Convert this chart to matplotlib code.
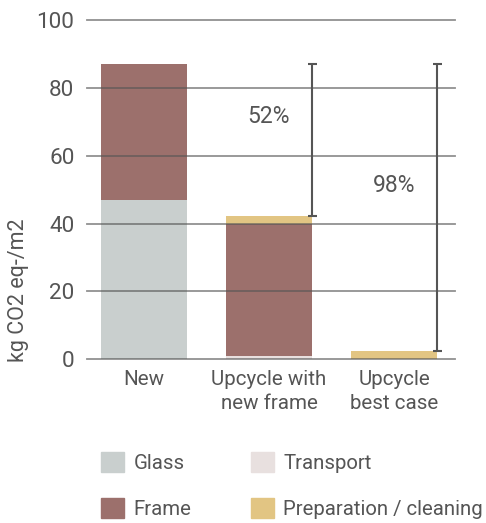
import matplotlib
matplotlib.use("Agg")
import matplotlib.pyplot as plt
from matplotlib.patches import Patch
import numpy as np

categories = ["New", "Upcycle with\nnew frame", "Upcycle\nbest case"]
glass = [47.0, 0.0, 0.0]
transport = [0.0, 0.9, 0.0]
frame = [40.0, 38.9, 0.0]
preparation = [0.0, 2.4, 2.4]
reductions = ["52%", "98%"]
reduction_label_y = [71.5, 51.3]
yticks = [0, 20, 40, 60, 80, 100]

colors = {
    "Glass": "#C9CFCE",
    "Transport": "#E8E0DF",
    "Frame": "#9C706C",
    "Preparation / cleaning": "#E2C583",
}
text_color = "#555555"

plt.rcParams['font.family'] = ['Roboto', 'DejaVu Sans']

fig = plt.figure(figsize=(4.86, 5.23), dpi=100)
ax = fig.add_axes([87/486, 1 - 359/523, (455-87)/486, (359-20.3)/523])

x = np.arange(len(categories))
w = 0.69
g = np.array(glass); t = np.array(transport); f = np.array(frame); p = np.array(preparation)
ax.bar(x, g, w, color=colors["Glass"], zorder=1)
ax.bar(x, t, w, bottom=g, color=colors["Transport"], zorder=1)
ax.bar(x, f, w, bottom=g + t, color=colors["Frame"], zorder=1)
ax.bar(x, p, w, bottom=g + t + f, color=colors["Preparation / cleaning"], zorder=1)

totals = g + t + f + p
ref = totals[0]
for i in (1, 2):
    xe = x[i] + w / 2
    ax.vlines(xe, totals[i], ref, color="#555555", lw=1.5, zorder=4)
    ax.hlines([totals[i], ref], xe - 0.035, xe + 0.035, color="#555555", lw=1.5, zorder=4)
    ax.text(x[i], reduction_label_y[i - 1], reductions[i - 1], ha="center", va="center",
            fontsize=16.5, color=text_color)

ax.set_xlim(-0.456, 2.488)
ax.set_ylim(0, 100)
ax.set_yticks(yticks)
ax.set_xticks(x)
ax.set_xticklabels(categories, fontsize=14.8, color=text_color, linespacing=1.3)
ax.tick_params(axis="y", length=0, pad=9, labelsize=16.2, labelcolor=text_color)
ax.tick_params(axis="x", length=0, pad=8)
for s in ax.spines.values():
    s.set_visible(False)
for yv in yticks:
    ax.axhline(yv, color="#555555", lw=1.3, alpha=0.65, zorder=3, clip_on=False)

ax.set_ylabel("kg CO2 eq-/m2", loc="bottom", fontsize=15.5, color=text_color)
ax.yaxis.set_label_coords(-0.158, -0.01)

fs = 14.7
common = dict(frameon=False, fontsize=fs, handlelength=1.13, handleheight=1.13,
              handletextpad=0.45, borderpad=0, borderaxespad=0, labelspacing=1.22,
              labelcolor=text_color)
h1 = [Patch(color=colors["Glass"]), Patch(color=colors["Frame"])]
h2 = [Patch(color=colors["Transport"]), Patch(color=colors["Preparation / cleaning"])]
leg1 = fig.legend(h1, ["Glass", "Frame"], loc="upper left",
                  bbox_to_anchor=(101/486, 1 - 452/523), **common)
leg2 = fig.legend(h2, ["Transport", "Preparation / cleaning"], loc="upper left",
                  bbox_to_anchor=(251/486, 1 - 452/523), **common)

fig.savefig("out.png", dpi=100)
